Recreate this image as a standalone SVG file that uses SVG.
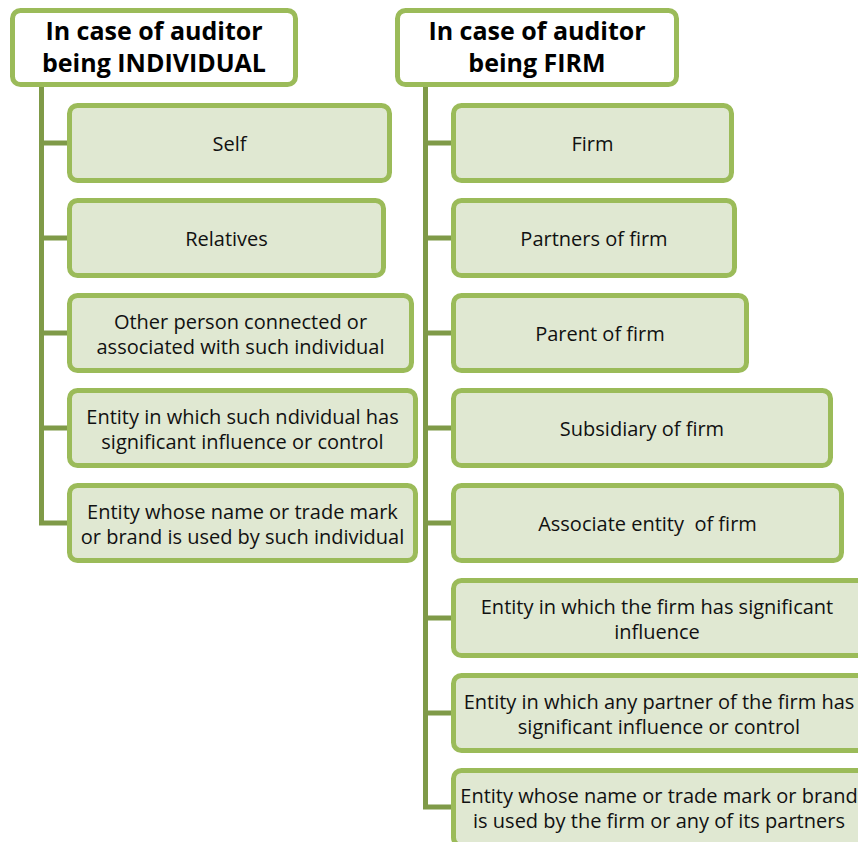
<svg xmlns="http://www.w3.org/2000/svg" width="858" height="842" viewBox="0 0 858 842">
<style>
.hdr{fill:#ffffff;stroke:#9bbb59;stroke-width:5}
.box{fill:#e0e8d2;stroke:#9bbb59;stroke-width:5}
.ht{font-family:"Open Sans","Liberation Sans",sans-serif;font-weight:bold;font-size:25px;fill:#000;text-anchor:middle}
.bt{font-family:"Open Sans","Liberation Sans",sans-serif;font-size:20px;fill:#111;text-anchor:middle}
.ln{stroke:#7f9a48;stroke-width:5;fill:none}
</style>
<rect width="858" height="842" fill="#ffffff"/>
<g id="connectors">
<path class="ln" d="M41.5,86 V525.5 M39,143 H68 M39,238 H68 M39,333 H68 M39,428 H68 M39,523 H68"/>
<path class="ln" d="M425.5,86 V809.5 M423,143 H453 M423,238 H453 M423,333 H453 M423,428 H453 M423,523 H453 M423,618 H453 M423,713 H453 M423,807 H453"/>
</g>
<g id="hdr-individual">
<rect class="hdr" x="12.5" y="10.5" width="283" height="74" rx="8"/>
<text class="ht" x="154" y="40">In case of auditor</text>
<text class="ht" x="154" y="72">being INDIVIDUAL</text>
</g>
<g id="hdr-firm">
<rect class="hdr" x="397.5" y="10.5" width="279" height="74" rx="8"/>
<text class="ht" x="537" y="40">In case of auditor</text>
<text class="ht" x="537" y="72">being FIRM</text>
</g>
<g id="self">
<rect class="box" x="69.5" y="105.5" width="320" height="75" rx="8"/>
<text class="bt" x="229.5" y="151">Self</text>
</g>
<g id="relatives">
<rect class="box" x="69.5" y="200.5" width="314" height="75" rx="8"/>
<text class="bt" x="226.5" y="246">Relatives</text>
</g>
<g id="other-person">
<rect class="box" x="69.5" y="295.5" width="342" height="75" rx="8"/>
<text class="bt" x="240.5" y="329">Other person connected or</text>
<text class="bt" x="240.5" y="354">associated with such individual</text>
</g>
<g id="entity-individual-influence">
<rect class="box" x="69.5" y="390.5" width="346" height="75" rx="8"/>
<text class="bt" x="242.5" y="424">Entity in which such ndividual has</text>
<text class="bt" x="242.5" y="449">significant influence or control</text>
</g>
<g id="entity-individual-brand">
<rect class="box" x="69.5" y="485.5" width="346" height="75" rx="8"/>
<text class="bt" x="242.5" y="519">Entity whose name or trade mark</text>
<text class="bt" x="242.5" y="544">or brand is used by such individual</text>
</g>
<g id="firm">
<rect class="box" x="453.5" y="105.5" width="278" height="75" rx="8"/>
<text class="bt" x="592.5" y="151">Firm</text>
</g>
<g id="partners">
<rect class="box" x="453.5" y="200.5" width="281" height="75" rx="8"/>
<text class="bt" x="594" y="246">Partners of firm</text>
</g>
<g id="parent">
<rect class="box" x="453.5" y="295.5" width="293" height="75" rx="8"/>
<text class="bt" x="600" y="341">Parent of firm</text>
</g>
<g id="subsidiary">
<rect class="box" x="453.5" y="390.5" width="377" height="75" rx="8"/>
<text class="bt" x="642" y="436">Subsidiary of firm</text>
</g>
<g id="associate">
<rect class="box" x="453.5" y="485.5" width="388" height="75" rx="8"/>
<text class="bt" x="647.5" y="531" xml:space="preserve">Associate entity  of firm</text>
</g>
<g id="entity-firm-influence">
<rect class="box" x="453.5" y="580.5" width="420" height="75" rx="8"/>
<text class="bt" x="657" y="614">Entity in which the firm has significant</text>
<text class="bt" x="657" y="639">influence</text>
</g>
<g id="entity-partner-influence">
<rect class="box" x="453.5" y="675.5" width="420" height="75" rx="8"/>
<text class="bt" x="659" y="709">Entity in which any partner of the firm has</text>
<text class="bt" x="659" y="734">significant influence or control</text>
</g>
<g id="entity-firm-brand">
<rect class="box" x="453.5" y="770.5" width="420" height="75" rx="8"/>
<text class="bt" x="659" y="803">Entity whose name or trade mark or brand</text>
<text class="bt" x="659" y="828">is used by the firm or any of its partners</text>
</g>
</svg>
